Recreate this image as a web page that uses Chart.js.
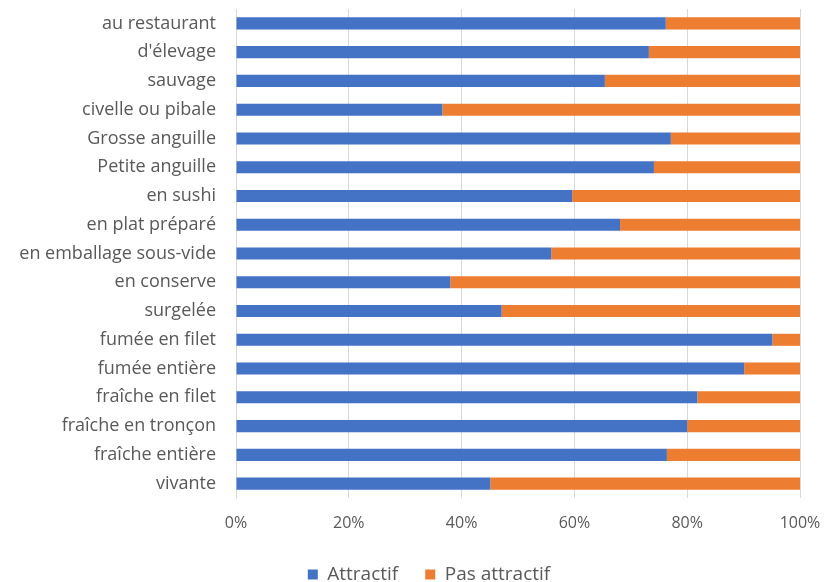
<!DOCTYPE html>
<html lang="fr">
<head>
  <meta charset="UTF-8" />
  <title>Attractivité de l'anguille</title>
  <script src="https://cdn.jsdelivr.net/npm/chart.js"></script>
  <style>
    * { margin: 0; padding: 0; box-sizing: border-box; }
    body { background: #fff; width: 827px; height: 582px; overflow: hidden; }
    .chart-box { position: relative; width: 827px; height: 582px; }
  </style>
</head>
<body>
  <div class="chart-box">
    <canvas id="chart"></canvas>
  </div>

  <script>
// Categories, top to bottom
const categories = [
  'au restaurant', "d'élevage", 'sauvage', 'civelle ou pibale',
  'Grosse anguille', 'Petite anguille', 'en sushi', 'en plat préparé',
  'en emballage sous-vide', 'en conserve', 'surgelée', 'fumée en filet',
  'fumée entière', 'fraîche en filet', 'fraîche en tronçon', 'fraîche entière',
  'vivante'
];

// Share (%)
const attractif = [76.2, 73.2, 65.4, 36.6, 77.1, 74.1, 59.6, 68.1, 55.9, 38.0, 47.1, 95.1, 90.1, 81.8, 80.0, 76.4, 45.1];
const pasAttractif = [23.8, 26.8, 34.6, 63.4, 22.9, 25.9, 40.4, 31.9, 44.1, 62.0, 52.9, 4.9, 9.9, 18.2, 20.0, 23.6, 54.9];

const xTicks = [0, 20, 40, 60, 80, 100];

const fontFamily = "'Open Sans', 'Noto Sans', sans-serif";
const textColor = '#595959';

// nudge the legend so it sits under the middle of the page like the original
const legendShift = {
  id: 'legendShift',
  afterLayout(chart) {
    const lg = chart.legend;
    if (!lg) return;
    lg.left += 29;
    lg.right += 29;
  }
};

const ctx = document.getElementById('chart').getContext('2d');
new Chart(ctx, {
  type: 'bar',
  data: {
    labels: categories,
    datasets: [
      {
        label: 'Attractif',
        data: attractif,
        backgroundColor: '#4472C4',
        categoryPercentage: 1,
        barPercentage: 0.42
      },
      {
        label: 'Pas attractif',
        data: pasAttractif,
        backgroundColor: '#ED7D31',
        categoryPercentage: 1,
        barPercentage: 0.42
      }
    ]
  },
  plugins: [legendShift],
  options: {
    indexAxis: 'y',
    responsive: true,
    maintainAspectRatio: false,
    animation: false,
    layout: { padding: { top: 9, right: 27, left: 0, bottom: 0 } },
    plugins: {
      tooltip: { enabled: false },
      legend: {
        position: 'bottom',
        maxHeight: 44,
        labels: {
          boxWidth: 10,
          boxHeight: 10,
          padding: 27,
          color: textColor,
          font: { family: fontFamily, size: 19 }
        }
      }
    },
    scales: {
      x: {
        stacked: true,
        min: 0,
        max: 100,
        afterBuildTicks: axis => { axis.ticks = xTicks.map(v => ({ value: v })); },
        afterFit: axis => {
          axis.height = 40;
          axis.paddingLeft = 0;
          axis.paddingRight = 0;
        },
        grid: { color: '#d9d9d9', lineWidth: 1, drawTicks: false },
        border: { display: false },
        ticks: {
          padding: 16,
          color: textColor,
          font: { family: fontFamily, size: 16 },
          callback: v => v + '%'
        }
      },
      y: {
        stacked: true,
        afterFit: axis => {
          axis.width = 236;
          axis.paddingTop = 0;
          axis.paddingBottom = 0;
        },
        grid: { display: false, drawTicks: false },
        border: { display: true, color: '#d9d9d9', width: 1 },
        ticks: {
          padding: 20,
          color: textColor,
          font: { family: fontFamily, size: 18 }
        }
      }
    }
  }
});
  </script>
</body>
</html>
